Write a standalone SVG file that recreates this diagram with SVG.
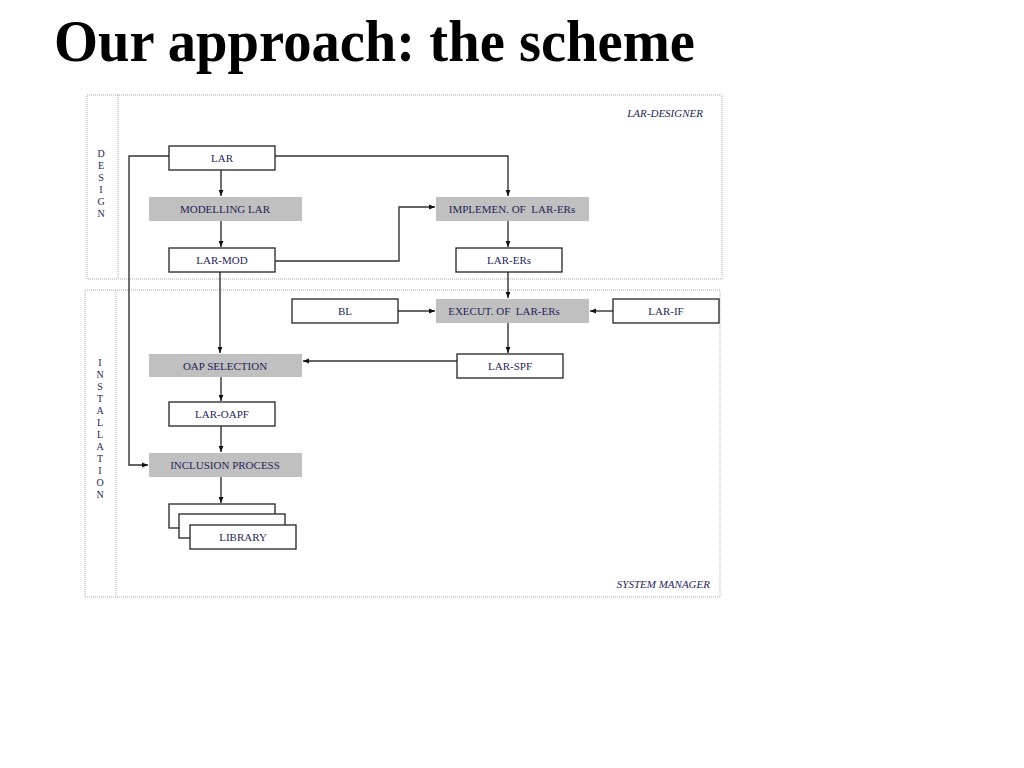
<svg xmlns="http://www.w3.org/2000/svg" width="1024" height="768" viewBox="0 0 1024 768">
<style>
.t{font-family:"Liberation Serif","Times New Roman",serif;font-size:11px;fill:#1f1f5a;text-anchor:middle}
.lbl{font-family:"Liberation Serif","Times New Roman",serif;font-size:11px;fill:#1f1f5a;font-style:italic;text-anchor:end}
.v{font-family:"Liberation Serif","Times New Roman",serif;font-size:10px;fill:#1f1f5a;text-anchor:middle}
.w{fill:#fff;stroke:#222;stroke-width:1.3}
.g{fill:#c0c0c0;stroke:none}
.frame{fill:none;stroke:#aaa;stroke-width:1;stroke-dasharray:1,1}
.c{fill:none;stroke:#333;stroke-width:1.4}
</style>
<defs>
<marker id="ah" viewBox="0 0 10 10" refX="10" refY="5" markerWidth="6" markerHeight="6" orient="auto" markerUnits="userSpaceOnUse">
<path d="M0,1 L10,5 L0,9 Z" fill="#111"/>
</marker>
</defs>
<rect width="1024" height="768" fill="#fff"/>
<text x="54" y="61" font-family="'Liberation Serif','Times New Roman',serif" font-size="60" font-weight="bold" fill="#000" textLength="641" lengthAdjust="spacingAndGlyphs">Our approach: the scheme</text>

<g id="design-frame">
<rect class="frame" x="87" y="95" width="635" height="184"/>
<line class="frame" x1="118" y1="95" x2="118" y2="279"/>
<text class="v" x="101" y="157">D</text>
<text class="v" x="101" y="169">E</text>
<text class="v" x="101" y="181">S</text>
<text class="v" x="101" y="193">I</text>
<text class="v" x="101" y="205">G</text>
<text class="v" x="101" y="217">N</text>
<text class="lbl" x="703" y="117">LAR-DESIGNER</text>
</g>
<g id="installation-frame">
<rect class="frame" x="85" y="290" width="635" height="307"/>
<line class="frame" x1="116" y1="290" x2="116" y2="597"/>
<text class="v" x="100" y="366">I</text>
<text class="v" x="100" y="378">N</text>
<text class="v" x="100" y="390">S</text>
<text class="v" x="100" y="402">T</text>
<text class="v" x="100" y="414">A</text>
<text class="v" x="100" y="426">L</text>
<text class="v" x="100" y="438">L</text>
<text class="v" x="100" y="450">A</text>
<text class="v" x="100" y="462">T</text>
<text class="v" x="100" y="474">I</text>
<text class="v" x="100" y="486">O</text>
<text class="v" x="100" y="498">N</text>
<text class="lbl" x="710" y="588">SYSTEM MANAGER</text>
</g>

<g id="connectors">
<path class="c" d="M169,156 H129 V465 H148" marker-end="url(#ah)"/>
<path class="c" d="M275,156 H508 V196" marker-end="url(#ah)"/>
<path class="c" d="M221,170 V196" marker-end="url(#ah)"/>
<path class="c" d="M221,221 V247" marker-end="url(#ah)"/>
<path class="c" d="M275,261 H399 V207 H435" marker-end="url(#ah)"/>
<path class="c" d="M508,221 V247" marker-end="url(#ah)"/>
<path class="c" d="M220,272 V353" marker-end="url(#ah)"/>
<path class="c" d="M508,272 V298" marker-end="url(#ah)"/>
<path class="c" d="M398,311 H435" marker-end="url(#ah)"/>
<path class="c" d="M613,311 H590" marker-end="url(#ah)"/>
<path class="c" d="M508,323 V353" marker-end="url(#ah)"/>
<path class="c" d="M457,361 H303" marker-end="url(#ah)"/>
<path class="c" d="M221,377 V401" marker-end="url(#ah)"/>
<path class="c" d="M221,426 V452" marker-end="url(#ah)"/>
<path class="c" d="M221,477 V503" marker-end="url(#ah)"/>
</g>

<g id="lar"><rect class="w" x="169" y="146" width="106" height="24"/><text class="t" x="222" y="162">LAR</text></g>
<g id="modelling-lar"><rect class="g" x="149" y="197" width="153" height="24"/><text class="t" x="225" y="213">MODELLING LAR</text></g>
<g id="lar-mod"><rect class="w" x="169" y="248" width="106" height="24"/><text class="t" x="222" y="264">LAR-MOD</text></g>
<g id="implemen"><rect class="g" x="436" y="197" width="153" height="24"/><text class="t" x="512" y="213" xml:space="preserve">IMPLEMEN. OF  LAR-ERs</text></g>
<g id="lar-ers"><rect class="w" x="456" y="248" width="106" height="24"/><text class="t" x="509" y="264">LAR-ERs</text></g>
<g id="bl"><rect class="w" x="292" y="299" width="106" height="24"/><text class="t" x="345" y="315">BL</text></g>
<g id="execut"><rect class="g" x="436" y="299" width="153" height="24"/><text class="t" x="504" y="315" xml:space="preserve">EXECUT. OF  LAR-ERs</text></g>
<g id="lar-if"><rect class="w" x="613" y="299" width="106" height="24"/><text class="t" x="666" y="315">LAR-IF</text></g>
<g id="oap-selection"><rect class="g" x="149" y="354" width="153" height="23"/><text class="t" x="225" y="370">OAP SELECTION</text></g>
<g id="lar-spf"><rect class="w" x="457" y="354" width="106" height="24"/><text class="t" x="510" y="370">LAR-SPF</text></g>
<g id="lar-oapf"><rect class="w" x="169" y="402" width="106" height="24"/><text class="t" x="222" y="418">LAR-OAPF</text></g>
<g id="inclusion-process"><rect class="g" x="149" y="453" width="153" height="24"/><text class="t" x="225" y="469">INCLUSION PROCESS</text></g>
<g id="library">
<rect class="w" x="169" y="504" width="106" height="24"/>
<rect class="w" x="179" y="514" width="106" height="24"/>
<rect class="w" x="190" y="525" width="106" height="24"/>
<text class="t" x="243" y="541">LIBRARY</text>
</g>
</svg>
